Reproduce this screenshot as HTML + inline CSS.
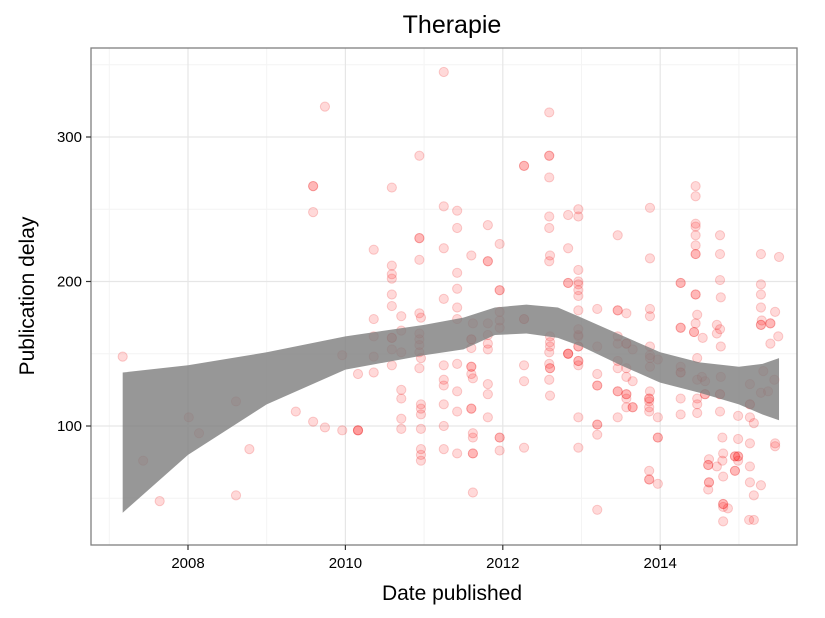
<!DOCTYPE html>
<html><head><meta charset="utf-8"><style>
body{margin:0;background:#fff;}
svg{display:block;font-family:"Liberation Sans",sans-serif;}
</style></head><body>
<svg id="chart" width="825" height="618">
<rect width="825" height="618" fill="#fff"/>
<g id="grid"></g>
<g id="pts"></g>
<g id="band"></g>
<rect x="91" y="48" width="706" height="497" fill="none" stroke="#7f7f7f" stroke-width="1.3"/>
<g id="axes"></g>
<text x="452" y="33" font-size="25" text-anchor="middle" fill="#000">Therapie</text>
<text x="452" y="600" font-size="21" text-anchor="middle" fill="#000">Date published</text>
<text x="34" y="296" font-size="21" text-anchor="middle" fill="#000" transform="rotate(-90 34 296)">Publication delay</text>
</svg>
<script>
const pairs=[
[2011.25,345],[2009.74,321],[2010.94,287],[2009.59,266],[2009.59,266],[2010.59,265],[2011.25,252],[2009.59,248],[2010.94,230],[2010.94,230],
[2011.25,223],[2010.36,222],[2010.94,215],[2010.59,211],[2010.59,205],[2010.59,202],[2010.59,191],[2011.25,188],[2010.59,183],[2010.71,176],
[2010.94,178],[2010.96,175],[2010.36,174],[2010.71,166],[2010.94,164],[2010.36,162],[2010.59,161],[2010.59,161],[2010.94,160],[2010.94,156],
[2010.59,153],[2010.71,151],[2010.94,151],[2009.96,149],[2010.36,148],[2007.17,148],[2010.96,147],[2010.59,142],[2010.94,140],[2011.25,142],
[2010.16,136],[2010.36,137],[2011.25,132],[2011.25,128],[2010.71,125],[2010.71,119],[2008.61,117],[2010.96,115],[2010.96,112],[2011.25,115],
[2010.96,108],[2009.37,110],[2008.01,106],[2010.71,105],[2009.59,103],[2009.74,99],[2011.25,100],[2010.71,98],[2010.96,98],[2009.96,97],
[2010.16,97],[2010.16,97],[2010.16,97],[2008.14,95],[2008.78,84],[2010.96,84],[2011.25,84],[2010.96,80],[2010.96,76],[2007.43,76],[2008.61,52],[2007.64,48],
[2012.59,317],[2012.59,287],[2012.59,287],[2012.27,280],[2012.27,280],[2012.59,272],[2014.45,266],[2014.45,259],[2011.42,249],[2013.87,251],
[2012.96,250],[2012.96,245],[2012.83,246],[2012.59,245],[2011.81,239],[2011.42,237],[2012.59,237],[2014.45,240],[2014.45,238],[2014.45,232],
[2013.46,232],[2014.76,232],[2011.96,226],[2014.45,225],[2012.83,223],[2014.45,219],[2014.45,219],[2014.76,219],[2015.28,219],[2015.51,217],
[2011.60,218],[2012.60,218],[2013.87,216],[2011.81,214],[2011.81,214],[2012.59,214],[2012.96,208],[2011.42,206],[2012.96,200],[2012.83,199],
[2012.83,199],[2012.96,198],[2014.26,199],[2014.26,199],[2014.76,201],[2015.28,198],[2011.42,195],[2011.96,194],[2011.96,194],[2012.96,194],
[2012.96,190],[2014.45,191],[2014.45,191],[2014.77,189],[2015.28,191],[2011.42,182],[2012.96,180],[2013.20,181],[2013.46,180],[2013.46,180],
[2013.57,178],[2013.87,181],[2013.87,176],[2015.28,182],[2015.46,179],[2014.47,177],[2011.42,174],[2011.96,179],[2011.96,173],[2012.27,174],
[2012.27,174],[2011.62,171],[2011.81,171],[2011.96,168],[2014.45,171],[2014.72,170],[2014.76,167],[2014.72,164],[2015.28,170],[2015.28,170],
[2015.29,173],[2015.40,171],[2015.40,171],[2014.26,168],[2014.26,168],[2014.43,165],[2014.43,165],[2014.54,161],[2015.50,162],[2011.81,163],
[2012.96,167],[2012.96,163],[2012.96,162],[2012.60,162],[2012.60,158],[2012.60,155],[2011.60,160],[2011.60,160],[2011.60,154],[2011.81,157],
[2011.81,153],[2013.46,162],[2013.46,157],[2013.57,157],[2013.57,157],[2013.65,153],[2013.20,155],[2012.96,155],[2012.96,155],[2014.77,155],
[2015.40,157],[2013.87,155],[2013.87,149],[2013.87,147],[2013.97,146],[2012.83,150],[2012.83,150],[2012.83,150],[2012.59,151],[2011.42,143],
[2012.27,142],[2012.96,145],[2012.96,145],[2012.96,142],[2012.59,143],[2012.60,140],[2012.60,140],[2011.60,141],[2011.60,141],[2011.60,136],
[2011.62,133],[2013.46,145],[2013.46,140],[2013.57,140],[2013.87,141],[2014.26,141],[2014.26,137],[2014.26,137],[2014.47,147],[2014.47,132],
[2014.53,134],[2014.57,131],[2014.77,134],[2015.14,129],[2015.31,138],[2015.45,132],[2015.28,123],[2015.37,124],[2013.20,136],[2013.20,128],
[2013.20,128],[2013.57,134],[2013.65,131],[2012.27,131],[2012.59,132],[2011.81,129],[2011.81,122],[2011.42,124],[2012.60,121],[2013.46,124],
[2013.46,124],[2013.57,122],[2013.57,122],[2013.57,119],[2013.57,113],[2013.65,113],[2013.65,113],[2013.87,124],[2013.86,119],[2013.86,119],
[2013.86,117],[2013.86,113],[2013.86,110],[2013.97,106],[2014.26,119],[2014.26,108],[2014.47,119],[2014.47,115],[2014.47,109],[2014.57,122],
[2014.57,122],[2014.76,122],[2014.76,122],[2014.76,110],[2015.14,115],[2015.14,115],[2014.99,107],[2015.14,106],[2015.19,102],[2011.60,112],
[2011.60,112],[2011.81,106],[2011.42,110],[2012.96,106],[2013.46,106],[2013.20,101],[2013.20,101],[2013.20,94],[2011.62,95],[2011.62,92],
[2011.96,92],[2011.96,92],[2013.97,92],[2013.97,92],[2014.79,92],[2014.99,91],[2015.14,88],[2015.46,88],[2015.46,86],[2011.42,81],
[2011.62,81],[2011.62,81],[2011.96,83],[2012.27,85],[2012.96,85],[2014.62,77],[2014.61,73],[2014.61,73],[2014.72,72],[2014.79,76],
[2014.80,81],[2014.95,79],[2014.95,79],[2014.99,79],[2014.99,79],[2014.99,76],[2014.95,69],[2014.95,69],[2015.14,72],[2014.80,65],
[2014.62,61],[2014.62,61],[2014.61,56],[2015.14,61],[2015.28,59],[2013.86,69],[2013.86,63],[2013.86,63],[2013.97,60],[2015.19,52],
[2011.62,54],[2014.80,46],[2014.80,46],[2014.80,44],[2014.86,43],[2013.20,42],[2014.80,34],[2015.13,35],[2015.19,35]
];
const dates=pairs.map(p=>p[0]);
const delays=pairs.map(p=>p[1]);
const smoothX=[2007.17,2008.0,2009.0,2010.0,2011.0,2011.5,2011.9,2012.3,2012.7,2013.0,2013.5,2014.0,2014.5,2015.0,2015.3,2015.51];
const smoothHi=[137,142,151,162,170,175,182,184,182,175,163,151,144,141,143,147];
const smoothLo=[40,80,115,139,149,153,163,164,161,155,142,130,123,115,108,104];
const xTicks=[2008,2010,2012,2014];
const yTicks=[100,200,300];
const xMinor=[2007,2009,2011,2013,2015];
const yMinor=[50,150,250,350];

const NS='http://www.w3.org/2000/svg';
const X=v=>188+(v-2008)*78.7;
const Y=v=>426-(v-100)*1.445;
function mk(tag,attrs,parent){const e=document.createElementNS(NS,tag);for(const k in attrs)e.setAttribute(k,attrs[k]);parent.appendChild(e);return e;}
const grid=document.getElementById('grid'),pts=document.getElementById('pts'),band=document.getElementById('band'),axes=document.getElementById('axes');
xMinor.forEach(v=>{const l=mk('line',{x1:X(v),x2:X(v),y1:48,y2:545,stroke:'#f4f4f4','stroke-width':1},grid);

});
yMinor.forEach(v=>{const l=mk('line',{x1:91,x2:797,y1:Y(v),y2:Y(v),stroke:'#f4f4f4','stroke-width':1},grid);

});
xTicks.forEach(v=>{const l=mk('line',{x1:X(v),x2:X(v),y1:48,y2:545,stroke:'#e6e6e6','stroke-width':1.2},grid);


const t=mk('line',{x1:X(v),x2:X(v),y1:545,y2:550,stroke:'#333','stroke-width':1.2},axes);


const tx=mk('text',{x:X(v),y:568,'font-size':15,'text-anchor':'middle',fill:'#000'},axes);tx.textContent=v;

});
yTicks.forEach(v=>{const l=mk('line',{x1:91,x2:797,y1:Y(v),y2:Y(v),stroke:'#e6e6e6','stroke-width':1.2},grid);


const t=mk('line',{x1:86,x2:91,y1:Y(v),y2:Y(v),stroke:'#333','stroke-width':1.2},axes);


const tx=mk('text',{x:82,y:Y(v)+5,'font-size':15,'text-anchor':'end',fill:'#000'},axes);tx.textContent=v;

});
dates.forEach((d,i)=>{const c=mk('circle',{cx:X(d),cy:Y(delays[i]),r:4.6,fill:'rgba(255,0,0,0.15)',stroke:'rgba(230,0,0,0.18)','stroke-width':1},pts);

});
let p='';smoothX.forEach((x,i)=>{p+=(i?'L':'M')+X(x)+','+Y(smoothHi[i]);});
for(let i=smoothX.length-1;i>=0;i--)p+='L'+X(smoothX[i])+','+Y(smoothLo[i]);
const b=mk('path',{d:p+'Z',fill:'#808080','fill-opacity':0.82},band);


</script>
</body></html>
